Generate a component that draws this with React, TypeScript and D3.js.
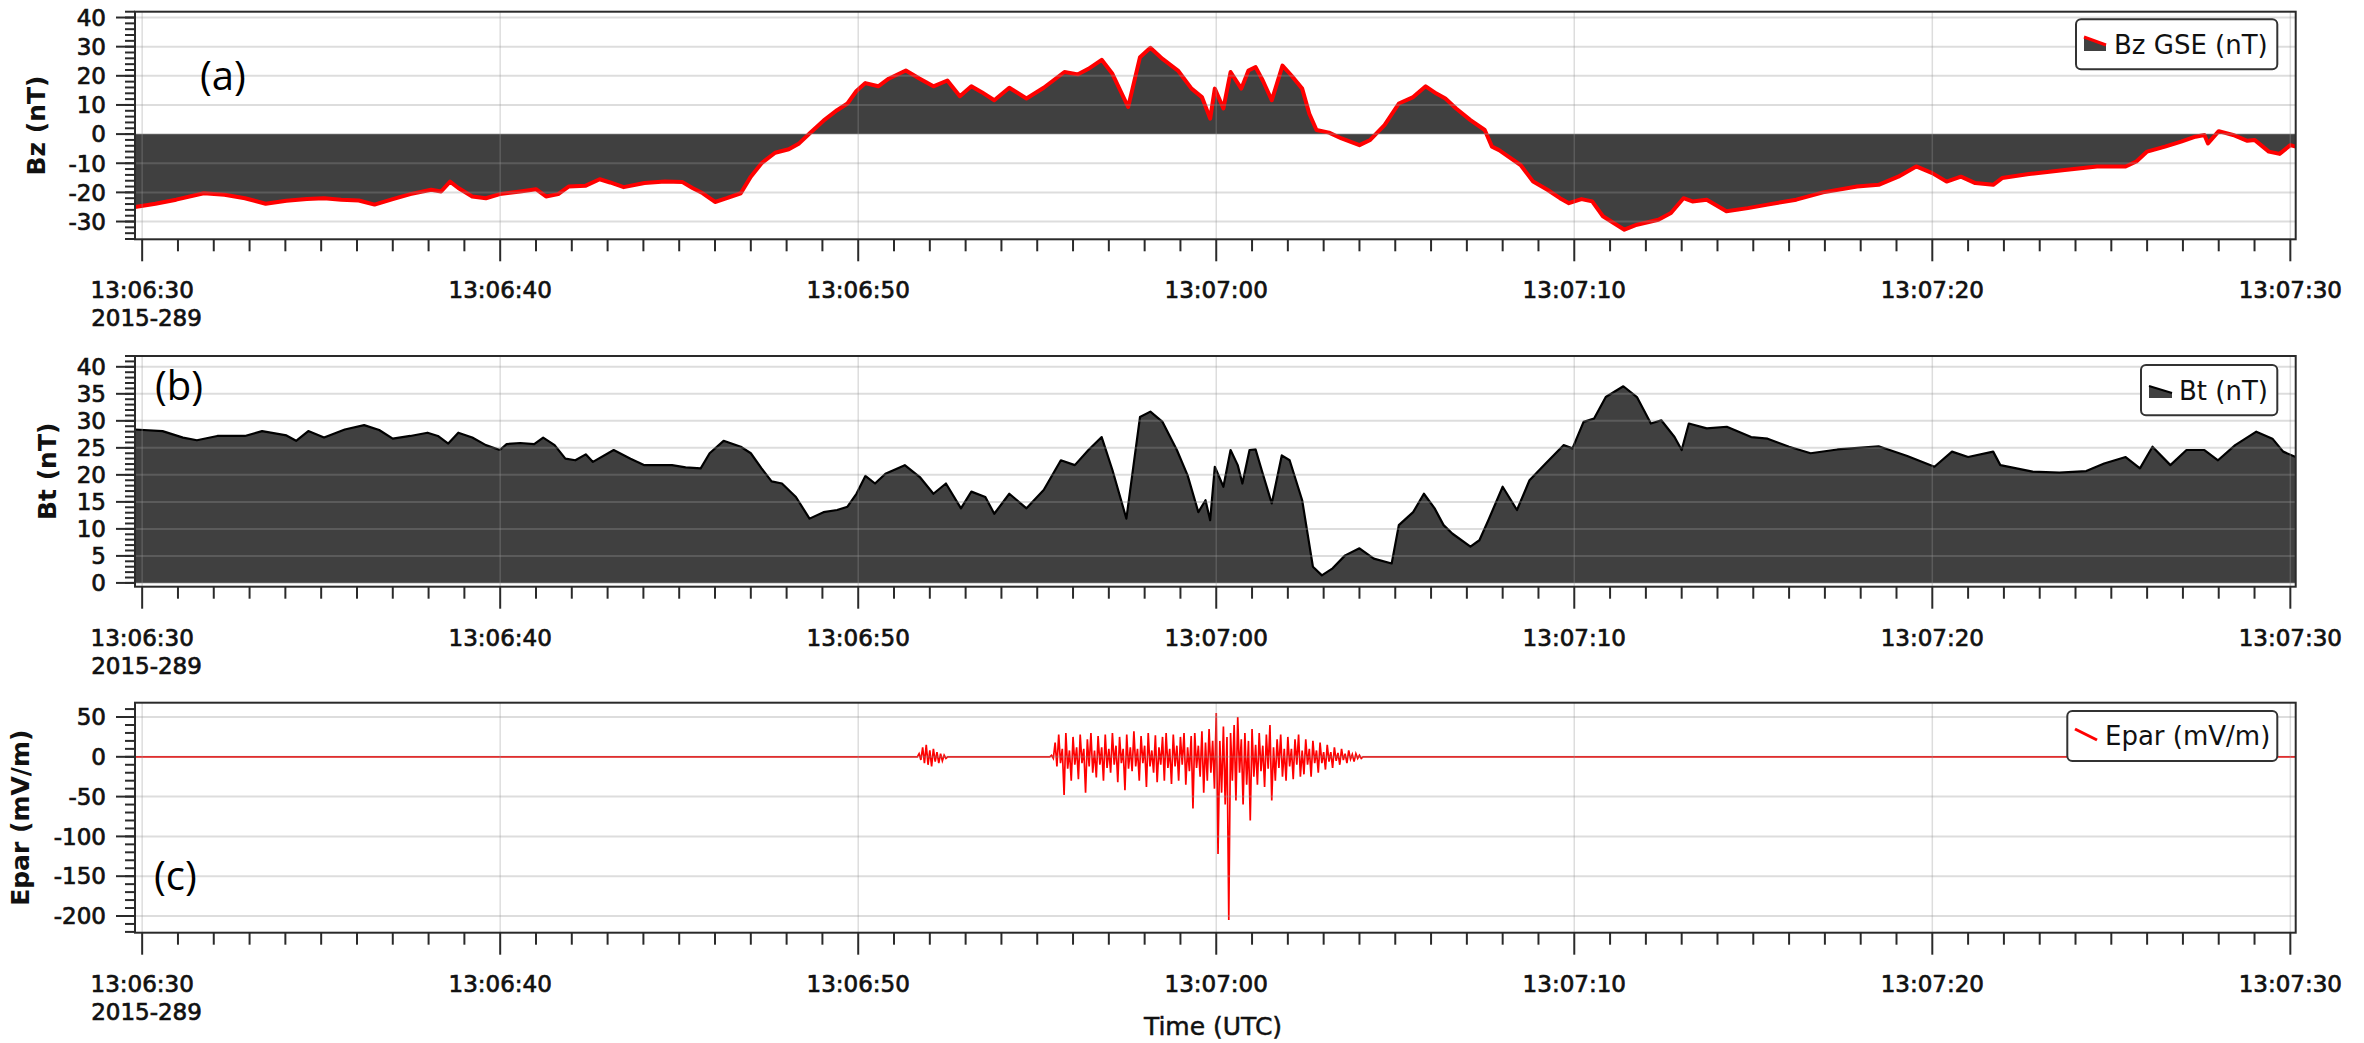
import React from 'react';
import * as d3 from 'd3';

const W = 2364;
const H = 1043;

// Time axis: seconds after 13:06:30 UTC
const timeTickSeconds = [0, 10, 20, 30, 40, 50, 60];
const timeTickLabels = ['13:06:30', '13:06:40', '13:06:50', '13:07:00', '13:07:10', '13:07:20', '13:07:30'];
const dateLabel = '2015-289';

// Bz GSE (nT)
const bzT = [-0.2, 0.37, 0.95, 1.72, 2.3, 2.87, 3.45, 4.03, 4.6, 5.08, 5.56, 6.05, 6.49, 7.0, 7.49, 8.07, 8.35, 8.6, 8.83, 9.22, 9.6, 9.99, 10.56, 11.0, 11.28, 11.62, 11.91, 12.39, 12.78, 13.07, 13.45, 14.03, 14.6, 15.08, 15.37, 15.66, 16.0, 16.33, 16.72, 17.0, 17.3, 17.68, 18.06, 18.35, 18.64, 19.03, 19.41, 19.7, 19.95, 20.2, 20.56, 20.85, 21.33, 21.72, 22.1, 22.49, 22.84, 23.16, 23.45, 23.8, 24.22, 24.7, 25.18, 25.76, 26.14, 26.43, 26.8, 27.1, 27.54, 27.87, 28.16, 28.5, 28.93, 29.31, 29.6, 29.83, 29.96, 30.2, 30.4, 30.7, 30.9, 31.1, 31.3, 31.55, 31.85, 32.1, 32.4, 32.6, 32.8, 33.15, 33.5, 34.0, 34.3, 34.7, 35.1, 35.5, 35.85, 36.15, 36.4, 36.7, 37.1, 37.5, 37.7, 37.9, 38.1, 38.5, 38.85, 39.25, 39.6, 39.85, 40.2, 40.5, 40.8, 41.4, 41.75, 42.35, 42.7, 43.05, 43.3, 43.7, 44.25, 44.85, 45.4, 46.2, 46.95, 47.9, 48.5, 49.05, 49.55, 50.0, 50.4, 50.8, 51.2, 51.7, 51.95, 52.7, 53.7, 54.6, 55.4, 55.7, 56.0, 56.5, 56.95, 57.35, 57.6, 57.7, 58.0, 58.4, 58.8, 59.0, 59.4, 59.7, 60.0, 60.15];
const bzV = [-25.0, -23.9, -22.5, -20.3, -20.8, -22.0, -23.9, -22.9, -22.3, -22.0, -22.5, -22.8, -24.2, -22.3, -20.6, -19.1, -19.7, -16.3, -18.5, -21.4, -22.0, -20.6, -19.7, -18.9, -21.4, -20.6, -18.0, -17.7, -15.5, -16.6, -18.2, -16.8, -16.3, -16.4, -18.5, -20.3, -23.3, -22.0, -20.3, -14.6, -10.0, -6.4, -5.2, -3.2, 0.2, 4.6, 8.2, 10.5, 14.8, 17.5, 16.4, 19.0, 21.8, 19.0, 16.4, 18.4, 13.0, 16.4, 14.4, 11.6, 15.9, 12.2, 15.9, 21.3, 20.5, 22.4, 25.5, 20.7, 9.3, 26.4, 29.6, 25.8, 21.8, 15.6, 12.7, 5.3, 15.6, 8.8, 21.3, 15.6, 21.8, 23.0, 18.4, 11.6, 23.5, 20.1, 15.6, 7.0, 1.4, 0.5, -1.5, -3.8, -2.0, 3.1, 10.5, 12.7, 16.4, 13.9, 12.2, 8.8, 4.8, 1.4, -4.3, -5.5, -7.2, -10.6, -16.3, -19.1, -22.0, -23.7, -22.3, -23.1, -28.2, -32.8, -31.1, -29.4, -27.1, -22.0, -23.1, -22.5, -26.5, -25.4, -24.2, -22.5, -20.0, -18.0, -17.4, -14.6, -11.1, -13.4, -16.3, -14.6, -16.8, -17.4, -15.1, -13.7, -12.3, -11.1, -11.1, -9.4, -6.0, -4.3, -2.6, -0.9, -0.3, -3.2, 1.0, -0.3, -2.3, -2.0, -6.0, -6.8, -3.8, -4.3];

// Bt (nT)
const btT = [-0.2, 0.57, 1.14, 1.53, 2.1, 2.87, 3.35, 4.03, 4.3, 4.64, 5.08, 5.66, 6.2, 6.62, 7.0, 7.49, 7.97, 8.26, 8.55, 8.83, 9.22, 9.6, 9.99, 10.18, 10.56, 10.95, 11.2, 11.52, 11.82, 12.1, 12.39, 12.59, 13.17, 13.64, 14.03, 14.8, 15.18, 15.6, 15.85, 16.24, 16.72, 17.0, 17.3, 17.58, 17.87, 18.26, 18.64, 19.03, 19.41, 19.7, 19.95, 20.2, 20.47, 20.76, 21.3, 21.72, 22.1, 22.45, 22.87, 23.16, 23.55, 23.8, 24.22, 24.7, 25.18, 25.66, 26.05, 26.43, 26.8, 27.1, 27.49, 27.87, 28.16, 28.5, 28.9, 29.2, 29.5, 29.7, 29.83, 29.96, 30.2, 30.4, 30.6, 30.73, 30.93, 31.1, 31.3, 31.55, 31.83, 32.05, 32.4, 32.7, 32.95, 33.25, 33.6, 34.0, 34.4, 34.9, 35.1, 35.5, 35.8, 36.1, 36.35, 36.6, 37.1, 37.35, 37.6, 38.0, 38.4, 38.75, 39.2, 39.7, 39.95, 40.26, 40.55, 40.88, 41.37, 41.75, 42.14, 42.43, 42.8, 43.0, 43.2, 43.7, 44.26, 44.94, 45.4, 46.0, 46.6, 47.35, 48.5, 49.3, 50.06, 50.55, 51.0, 51.7, 51.9, 52.8, 53.55, 54.3, 54.8, 55.4, 55.8, 56.15, 56.65, 57.1, 57.6, 57.98, 58.46, 59.05, 59.5, 59.8, 60.15];
const btV = [28.4, 28.1, 26.9, 26.4, 27.2, 27.2, 28.1, 27.3, 26.3, 28.1, 26.9, 28.4, 29.2, 28.3, 26.7, 27.2, 27.8, 27.2, 25.8, 27.8, 26.9, 25.5, 24.6, 25.7, 25.9, 25.7, 26.9, 25.5, 23.0, 22.7, 23.8, 22.4, 24.6, 23.0, 21.8, 21.8, 21.4, 21.2, 24.0, 26.3, 25.2, 24.0, 21.2, 18.8, 18.4, 15.9, 11.9, 13.1, 13.5, 14.1, 16.5, 19.8, 18.4, 20.2, 21.8, 19.6, 16.5, 18.4, 13.8, 16.9, 15.9, 12.8, 16.5, 13.8, 17.2, 22.7, 21.8, 24.6, 27.0, 20.9, 11.9, 30.7, 31.7, 29.8, 24.6, 19.9, 13.1, 15.3, 11.6, 21.5, 17.8, 24.6, 21.8, 18.4, 24.6, 24.7, 20.2, 14.7, 23.6, 22.7, 15.3, 3.0, 1.4, 2.7, 5.1, 6.4, 4.5, 3.6, 10.7, 13.1, 16.5, 13.8, 10.7, 9.1, 6.7, 7.9, 11.6, 17.8, 13.5, 19.0, 22.1, 25.5, 24.9, 29.8, 30.4, 34.4, 36.4, 34.4, 29.5, 30.1, 27.0, 24.6, 29.5, 28.6, 28.9, 27.0, 26.7, 25.2, 24.0, 24.7, 25.3, 23.5, 21.5, 24.3, 23.3, 24.3, 21.8, 20.6, 20.4, 20.7, 22.1, 23.3, 21.2, 25.2, 21.8, 24.6, 24.6, 22.7, 25.5, 28.0, 26.7, 24.3, 23.3];

// Epar (mV/m): upper and lower excursion in each 0.1 s bin (zero where quiet)
const eparT = [
  -0.2, 21.6, 21.7, 21.8, 21.9, 22.0, 22.1, 22.2, 22.3, 22.4, 22.5, 25.3,
  25.4, 25.5, 25.6, 25.7, 25.8, 25.9, 26.0, 26.1, 26.2, 26.3, 26.4, 26.5, 26.6, 26.7, 26.8, 26.9,
  27.0, 27.1, 27.2, 27.3, 27.4, 27.5, 27.6, 27.7, 27.8, 27.9, 28.0, 28.1, 28.2, 28.3, 28.4, 28.5,
  28.6, 28.7, 28.8, 28.9, 29.0, 29.1, 29.2, 29.3, 29.4, 29.5, 29.6, 29.7, 29.8, 29.9, 30.0, 30.1,
  30.2, 30.3, 30.4, 30.5, 30.6, 30.7, 30.8, 30.9, 31.0, 31.1, 31.2, 31.3, 31.4, 31.5, 31.6, 31.7,
  31.8, 31.9, 32.0, 32.1, 32.2, 32.3, 32.4, 32.5, 32.6, 32.7, 32.8, 32.9, 33.0, 33.1, 33.2, 33.3,
  33.4, 33.5, 33.6, 33.7, 33.8, 33.9, 34.0, 34.1, 60.15,
];
const eparHi = [
  0, 0, 4, 12, 15, 8, 10, 6, 4, 2, 0, 0,
  2, 18, 28, 10, 30, 8, 25, 12, 28, 10, 22, 30, 8, 26, 12, 28,
  10, 30, 14, 25, 10, 28, 12, 32, 10, 26, 14, 30, 8, 27, 12, 25,
  30, 10, 28, 14, 25, 30, 12, 26, 30, 14, 32, 18, 35, 20, 55, 20,
  38, 25, 30, 40, 50, 22, 30, 20, 35, 15, 30, 14, 28, 40, 12, 22,
  28, 10, 25, 10, 22, 28, 8, 22, 10, 20, 8, 18, 6, 15, 6, 12,
  5, 10, 4, 8, 3, 4, 2, 0, 0,
];
const eparLo = [
  0, 0, -4, -8, -10, -12, -6, -8, -5, -2, 0, 0,
  -2, -12, -8, -48, -15, -30, -10, -28, -8, -45, -12, -20, -26, -10, -30, -14,
  -20, -10, -32, -8, -42, -15, -18, -12, -30, -8, -38, -12, -20, -32, -10, -30,
  -14, -34, -12, -30, -10, -35, -18, -65, -14, -25, -45, -30, -20, -40, -122, -45,
  -60, -205, -30, -55, -20, -60, -35, -80, -25, -35, -18, -38, -15, -55, -30, -14,
  -25, -30, -12, -28, -10, -25, -22, -10, -25, -8, -20, -8, -16, -6, -14, -5,
  -10, -4, -8, -3, -6, -2, -2, 0, 0,
];

const bzTicks = [-30, -20, -10, 0, 10, 20, 30, 40];
const btTicks = [0, 5, 10, 15, 20, 25, 30, 35, 40];
const eparTicks = [-200, -150, -100, -50, 0, 50];

const titleText = 'MMS1/FGM  Magnetic field vector in Geocentric Solar Ecliptic (GSE) cartesian coordinates plus Btotal (128 S/s)';

const FILL = '#404040';
const RED = '#ff0000';
const GRID = 'rgba(150,150,150,0.32)';
const AXIS = '#2a2a2a';
const FONT = '"DejaVu Sans", sans-serif';

const X0 = 135;
const X1 = 2295.7;
const x = d3.scaleLinear().domain([-0.2, 60.15]).range([X0, X1]);

type PanelProps = {
  top: number;
  bottom: number;
  y: d3.ScaleLinear<number, number>;
  majors: number[];
  minorStep: number;
  label: string;
  labelX: number;
  children?: React.ReactNode;
};

const tickText = { fontFamily: FONT, fontSize: 23, fill: '#111', stroke: '#111', strokeWidth: 0.7 } as const;

function Panel({ top, bottom, y, majors, minorStep, label, labelX, children }: PanelProps) {
  const [d0, d1] = y.domain();
  const minors = d3.range(Math.ceil(d0 / minorStep) * minorStep, d1 + 1e-9, minorStep);
  const secTicks = d3.range(0, 61, 1);
  const midY = (top + bottom) / 2;
  return (
    <g>
      <defs>
        <clipPath id={`clip-${Math.round(top)}`}>
          <rect x={X0} y={top} width={X1 - X0} height={bottom - top} />
        </clipPath>
      </defs>
      <rect x={X0} y={top} width={X1 - X0} height={bottom - top} fill="#fff" />
      <g clipPath={`url(#clip-${Math.round(top)})`}>{children}</g>
      {majors.map((v) => (
        <line key={`gy${v}`} x1={X0} x2={X1} y1={y(v)} y2={y(v)} stroke={GRID} strokeWidth={2} />
      ))}
      {timeTickSeconds.map((s) => (
        <line key={`gx${s}`} x1={x(s)} x2={x(s)} y1={top} y2={bottom} stroke={GRID} strokeWidth={1.5} />
      ))}
      <rect x={X0} y={top} width={X1 - X0} height={bottom - top} fill="none" stroke={AXIS} strokeWidth={2} />
      {minors.map((v) => (
        <line key={`my${v}`} x1={X0 - 10} x2={X0} y1={y(v)} y2={y(v)} stroke={AXIS} strokeWidth={2} />
      ))}
      {majors.map((v) => (
        <g key={`ty${v}`}>
          <line x1={X0 - 19} x2={X0} y1={y(v)} y2={y(v)} stroke={AXIS} strokeWidth={2} />
          <text x={X0 - 29} y={y(v)} dy="0.36em" textAnchor="end" style={tickText}>
            {v < 0 ? `-${Math.abs(v)}` : `${v}`}
          </text>
        </g>
      ))}
      {secTicks.map((s) => {
        const major = s % 10 === 0;
        return <line key={`tx${s}`} x1={x(s)} x2={x(s)} y1={bottom} y2={bottom + (major ? 22 : 12)} stroke={AXIS} strokeWidth={2} />;
      })}
      {timeTickSeconds.map((s, i) => (
        <text key={`lx${s}`} x={x(s)} y={bottom + 59} textAnchor="middle" style={tickText}>
          {timeTickLabels[i]}
        </text>
      ))}
      <text x={x(0) - 51} y={bottom + 87} style={tickText}>
        {dateLabel}
      </text>
      <text
        transform={`translate(${labelX},${midY}) rotate(-90)`}
        textAnchor="middle"
        dy="0.36em"
        style={{ fontFamily: FONT, fontSize: 25, fontWeight: 'bold', fill: '#111' }}
      >
        {label}
      </text>
    </g>
  );
}

export default function App() {
  const yBz = d3.scaleLinear().domain([-36.1, 42]).range([239.3, 11.7]);
  const yBt = d3.scaleLinear().domain([-0.7, 42]).range([586.7, 356]);
  const yEp = d3.scaleLinear().domain([-221, 68]).range([932.7, 702.7]);

  const bzData = bzT.map((t, i) => [t, bzV[i]] as [number, number]);
  const btData = btT.map((t, i) => [t, btV[i]] as [number, number]);

  const bzArea = d3.area<[number, number]>().x((d) => x(d[0])).y0(yBz(0)).y1((d) => yBz(d[1]));
  const bzLine = d3.line<[number, number]>().x((d) => x(d[0])).y((d) => yBz(d[1]));
  const btArea = d3.area<[number, number]>().x((d) => x(d[0])).y0(yBt(0)).y1((d) => yBt(d[1]));
  const btLine = d3.line<[number, number]>().x((d) => x(d[0])).y((d) => yBt(d[1]));

  // each bin contributes its upper then its lower excursion
  const epPts: [number, number][] = [];
  eparT.forEach((t, i) => {
    epPts.push([t, eparHi[i]]);
    epPts.push([t + 0.05, eparLo[i]]);
  });
  const epLine = d3.line<[number, number]>().x((d) => x(d[0])).y((d) => yEp(d[1]));

  const legendText = { fontFamily: FONT, fontSize: 26, fill: '#111' } as const;
  const letter = { fontFamily: '"Open Sans", sans-serif', fontSize: 40, fill: '#000' } as const;

  return (
    <svg width={W} height={H} style={{ position: 'absolute', left: 0, top: 0, background: '#fff' }}>
      <rect width={W} height={H} fill="#fff" />
      <Panel top={11.7} bottom={239.3} y={yBz} majors={bzTicks} minorStep={2} label="Bz (nT)" labelX={36}>
        <path d={bzArea(bzData) ?? ''} fill={FILL} />
        <path d={bzLine(bzData) ?? ''} fill="none" stroke={RED} strokeWidth={4} strokeLinejoin="round" />
      </Panel>
      <text x={1186} y={376} textAnchor="middle" textLength={1640} lengthAdjust="spacingAndGlyphs" style={{ fontFamily: FONT, fontSize: 24, fill: '#111', stroke: '#111', strokeWidth: 0.5 }}>
        {titleText}
      </text>
      <Panel top={356} bottom={586.7} y={yBt} majors={btTicks} minorStep={1} label="Bt (nT)" labelX={47}>
        <path d={btArea(btData) ?? ''} fill={FILL} />
        <path d={btLine(btData) ?? ''} fill="none" stroke="#000" strokeWidth={2.2} strokeLinejoin="round" />
      </Panel>
      <Panel top={702.7} bottom={932.7} y={yEp} majors={eparTicks} minorStep={10} label="Epar (mV/m)" labelX={20}>
        <path d={epLine(epPts) ?? ''} fill="none" stroke={RED} strokeWidth={1.7} />
      </Panel>
      <text x={1213} y={1035} textAnchor="middle" style={{ fontFamily: FONT, fontSize: 25, fill: '#111', stroke: '#111', strokeWidth: 0.5 }}>
        Time (UTC)
      </text>

      <text x={200} y={90} style={letter}>(a)</text>
      <text x={155} y={400} style={letter}>(b)</text>
      <text x={154} y={890} style={letter}>(c)</text>

      <g>
        <rect x={2076} y={19.3} width={201.3} height={50} rx={5} fill="#fff" stroke="#333" strokeWidth={2} />
        <polygon points="2084,37 2106,45 2106,51 2084,51" fill={FILL} />
        <line x1={2084} y1={37} x2={2106} y2={45} stroke={RED} strokeWidth={3} />
        <text x={2114} y={54} style={legendText}>Bz GSE (nT)</text>
      </g>
      <g>
        <rect x={2141} y={365} width={136.3} height={50.3} rx={5} fill="#fff" stroke="#333" strokeWidth={2} />
        <polygon points="2149,386 2172,393 2172,398 2149,398" fill={FILL} />
        <line x1={2149} y1={386} x2={2172} y2={393} stroke="#000" strokeWidth={2} />
        <text x={2179} y={400} style={legendText}>Bt (nT)</text>
      </g>
      <g>
        <rect x={2067.3} y={711} width={210} height={50} rx={5} fill="#fff" stroke="#333" strokeWidth={2} />
        <line x1={2075} y1={729} x2={2097} y2={740} stroke={RED} strokeWidth={3} />
        <text x={2105} y={745} style={legendText}>Epar (mV/m)</text>
      </g>
    </svg>
  );
}
